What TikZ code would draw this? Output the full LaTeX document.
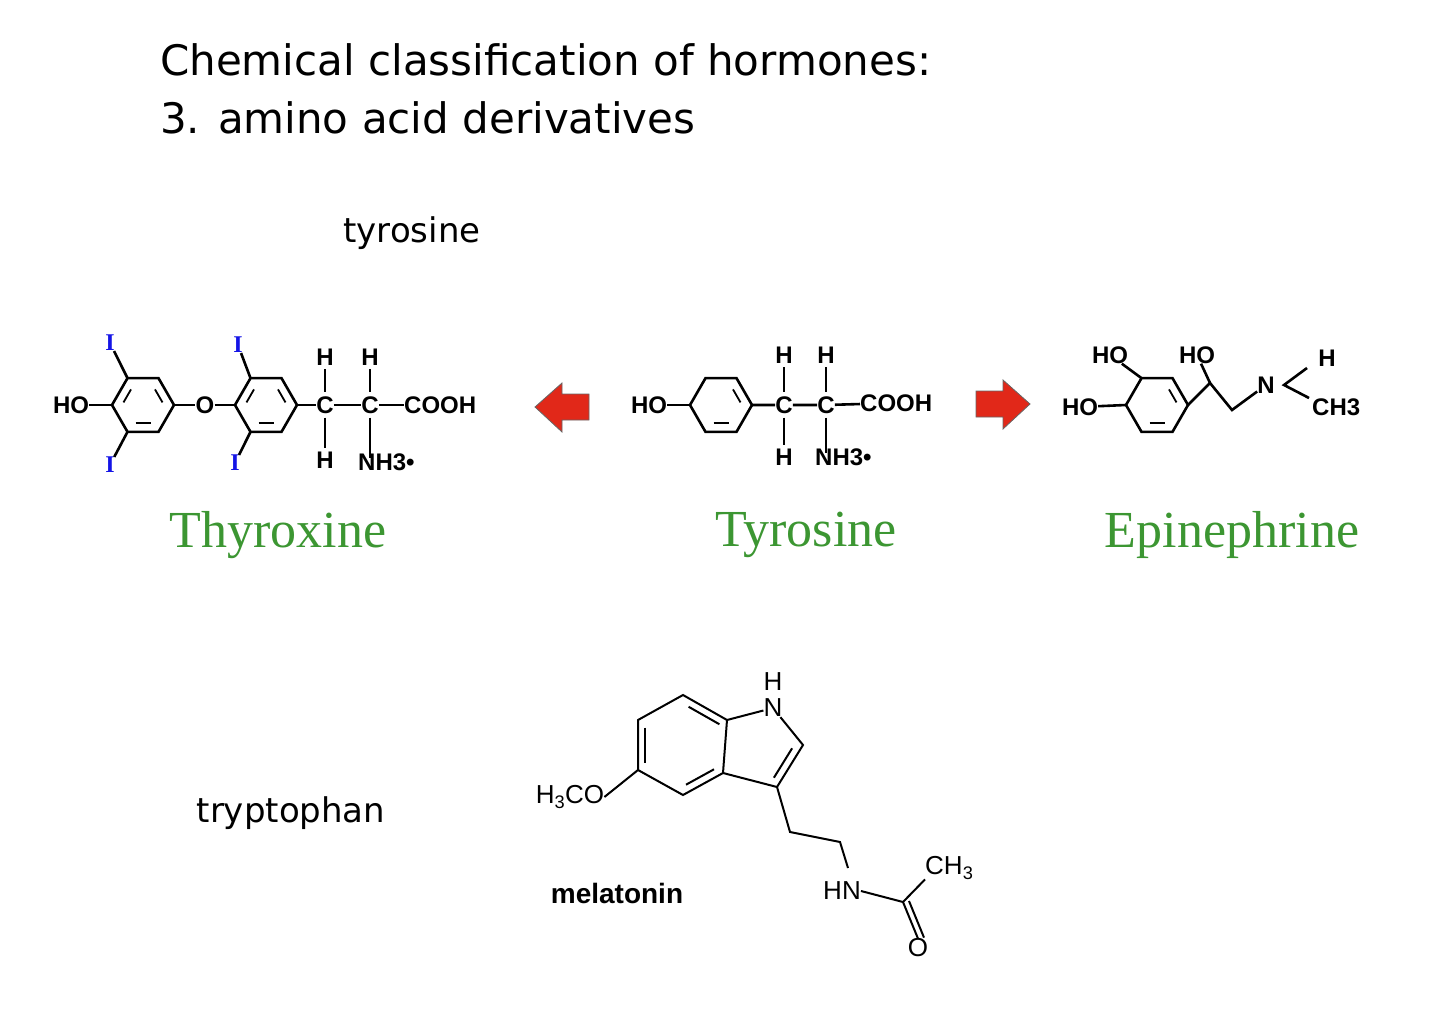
\documentclass[tikz,border=0pt]{standalone}
\usetikzlibrary{calc}
\usepackage{fontspec}
\setmainfont{Liberation Serif}
\newfontfamily\hand{DejaVu Sans}
\newfontfamily\chem{Liberation Sans}
\definecolor{lblgreen}{RGB}{60,150,50}
\definecolor{arrred}{RGB}{225,40,25}
\definecolor{iblue}{RGB}{20,20,230}
\newcommand\inbond[4]{\draw[line width=1.8pt,shorten <=3pt,shorten >=3pt] ({#1+21*cos(#3)},{#2-21*sin(#3)})--({#1+21*cos(#4)},{#2-21*sin(#4)});}
\begin{document}
\begin{tikzpicture}[x=1pt,y=-1pt,
  bond/.style={line width=2.6pt},
  mbond/.style={line width=2pt},
  atom/.style={font=\chem\bfseries\fontsize{24}{24}\selectfont,inner sep=0pt},
  iod/.style={atom,text=iblue,font=\bfseries\fontsize{24}{24}\selectfont},
  matom/.style={font=\chem\fontsize{26}{26}\selectfont,inner sep=0pt},
  hlabel/.style={font=\hand\fontsize{42}{42}\selectfont,anchor=west,inner sep=0pt},
  glabel/.style={font=\fontsize{52}{52}\selectfont,text=lblgreen,inner sep=0pt},
  slabel/.style={font=\hand\fontsize{34}{34}\selectfont,inner sep=0pt},
  redarrow/.style={fill=arrred,draw=black!60,line width=0.8pt}]
\useasboundingbox (0,0) rectangle (1440,1016);
\node[hlabel] (t1) at (160,60) {Chemical classification of hormones:};
\node[hlabel] (t2) at (160,118) {3. amino acid derivatives};
\node[slabel] (ltyr) at (412,233) {tyrosine};
\node[slabel] (ltrp) at (291,813) {tryptophan};
\node[glabel] (gthy) at (278,535) {Thyroxine};
\node[glabel] (gtyr) at (806,535) {Tyrosine};
\node[glabel] (gepi) at (1232,535) {Epinephrine};
% --- Thyroxine
\foreach \cx/\nm in {143/ra,266/rb}{
  \foreach \a in {0,60,...,300}{\coordinate (\nm\a) at ({\cx+31*cos(\a)},{405-31*sin(\a)});}
  \draw[bond] (\nm0)--(\nm60)--(\nm120)--(\nm180)--(\nm240)--(\nm300)--cycle;
  \inbond{\cx}{405}{0}{60}\inbond{\cx}{405}{120}{180}\inbond{\cx}{405}{240}{300}
}
\node[atom] (tho) at (71,405) {HO};
\node[atom] (to) at (205,405) {O};
\node[iod] (ti1) at (110,343) {I};
\node[iod] (ti2) at (110,465) {I};
\node[iod] (ti3) at (238,345) {I};
\node[iod] (ti4) at (235,463) {I};
\node[atom] (tc1) at (325,405) {C};
\node[atom] (tc2) at (370,405) {C};
\node[atom] (th1) at (325,357) {H};
\node[atom] (th2) at (370,357) {H};
\node[atom] (th3) at (325,460) {H};
\node[atom,anchor=west] (tn) at (358,462) {NH3\textbullet};
\node[atom,anchor=west] (tcooh) at (404,405) {COOH};
\draw[bond] (tho)--(ra180); \draw[bond] (ra0)--(to)--(rb180); \draw[bond] (rb0)--(tc1)--(tc2)--(tcooh);
\draw[bond] (ra120)--(ti1); \draw[bond] (ra240)--(ti2); \draw[bond] (rb120)--(ti3); \draw[bond] (rb240)--(ti4);
\draw[bond,shorten <=4pt,shorten >=4pt] (th1)--(tc1); \draw[bond,shorten <=4pt,shorten >=4pt] (tc1)--(th3);
\draw[bond,shorten <=4pt,shorten >=4pt] (th2)--(tc2); \draw[bond,shorten <=4pt,shorten >=4pt] (tc2)--(370,462);
% --- Tyrosine
\foreach \a in {0,60,...,300}{\coordinate (rc\a) at ({721+31*cos(\a)},{405-31*sin(\a)});}
\draw[bond] (rc0)--(rc60)--(rc120)--(rc180)--(rc240)--(rc300)--cycle;
\inbond{721}{405}{0}{60}\inbond{721}{405}{240}{300}
\node[atom] (yho) at (649,405) {HO};
\node[atom] (yc1) at (784,405) {C};
\node[atom] (yc2) at (826,405) {C};
\node[atom] (yh1) at (784,355) {H};
\node[atom] (yh2) at (826,355) {H};
\node[atom] (yh3) at (784,457) {H};
\node[atom,anchor=west] (yn) at (815,457) {NH3\textbullet};
\node[atom,anchor=west] (ycooh) at (860,403) {COOH};
\draw[bond] (yho)--(rc180); \draw[bond] (rc0)--(yc1)--(yc2)--(ycooh);
\draw[bond,shorten <=4pt,shorten >=4pt] (yh1)--(yc1); \draw[bond,shorten <=4pt,shorten >=4pt] (yc1)--(yh3);
\draw[bond,shorten <=4pt,shorten >=4pt] (yh2)--(yc2); \draw[bond,shorten <=4pt,shorten >=4pt] (yc2)--(826,457);
% --- arrows
\path[redarrow] (535,407)--(562,383)--(562,394)--(589,394)--(589,420)--(562,420)--(562,432)--cycle;
\path[redarrow] (1030,404)--(1003,380)--(1003,391)--(976,391)--(976,417)--(1003,417)--(1003,429)--cycle;
% --- Epinephrine
\foreach \a in {0,60,...,300}{\coordinate (re\a) at ({1157+31*cos(\a)},{405-31*sin(\a)});}
\draw[bond] (re0)--(re60)--(re120)--(re180)--(re240)--(re300)--cycle;
\inbond{1157}{405}{0}{60}\inbond{1157}{405}{240}{300}
\node[atom] (eho1) at (1080,407) {HO};
\node[atom] (eho2) at (1110,355) {HO};
\node[atom] (eho3) at (1197,355) {HO};
\coordinate (ea) at (1210,383);
\coordinate (eb) at (1232,410);
\node[atom] (en) at (1266,385) {N};
\node[atom] (eh) at (1327,358) {H};
\node[atom,anchor=west] (ech) at (1312,407) {CH3};
\coordinate (ev) at (1284,385);
\draw[bond] (eho1)--(re180); \draw[bond] (eho2)--(re120);
\draw[bond] (re0)--(ea)--(eb)--(en); \draw[bond] (ea)--(eho3);
\draw[bond] (1307,368)--(ev)--(1309,398);
% --- Melatonin
\coordinate (m1) at (638,720); \coordinate (m2) at (683,695); \coordinate (m3) at (727,720);
\coordinate (m4) at (723,773); \coordinate (m5) at (683,795); \coordinate (m6) at (638,770);
\node[matom] (mn) at (773,708) {N};
\node[matom] (mh) at (773,682) {H};
\coordinate (mc2) at (803,745); \coordinate (mc3) at (777,787);
\coordinate (mk1) at (790,832); \coordinate (mk2) at (840,842);
\node[matom] (mhn) at (842,891) {HN};
\coordinate (mcc) at (903,902);
\node[matom,anchor=west] (mch) at (925,868) {CH\textsubscript{3}};
\node[matom] (mo) at (918,948) {O};
\node[matom] (mome) at (570,797) {H\textsubscript{3}CO};
\draw[mbond] (m1)--(m2)--(m3)--(m4)--(m5)--(m6)--cycle;
\draw[mbond] (m3)--(mn)--(mc2)--(mc3)--(m4);
\draw[mbond] ($(m1)!0.15!(m6)+(7,0)$) -- ($(m1)!0.85!(m6)+(7,0)$);
\draw[mbond] ($(m2)!0.15!(m3)+(-1,8)$) -- ($(m2)!0.85!(m3)+(-1,8)$);
\draw[mbond] ($(m4)!0.15!(m5)+(-3,-7)$) -- ($(m4)!0.85!(m5)+(-3,-7)$);
\draw[mbond] ($(mc2)!0.15!(mc3)+(-7,-3)$) -- ($(mc2)!0.85!(mc3)+(-7,-3)$);
\draw[mbond] (mc3)--(mk1)--(mk2)--(848,868);
\draw[mbond] (mome.east)--(m6);
\draw[mbond] (mhn.east)--(mcc)--(mch.south west);
\draw[mbond] (mcc)--(mo.north); \draw[mbond] ($(mcc)+(6,-1)$)--($(mo.north)+(6,-1)$);
\node[font=\chem\bfseries\fontsize{28}{28}\selectfont,inner sep=0pt] (mlab) at (617,893) {melatonin};
\end{tikzpicture}
\end{document}
